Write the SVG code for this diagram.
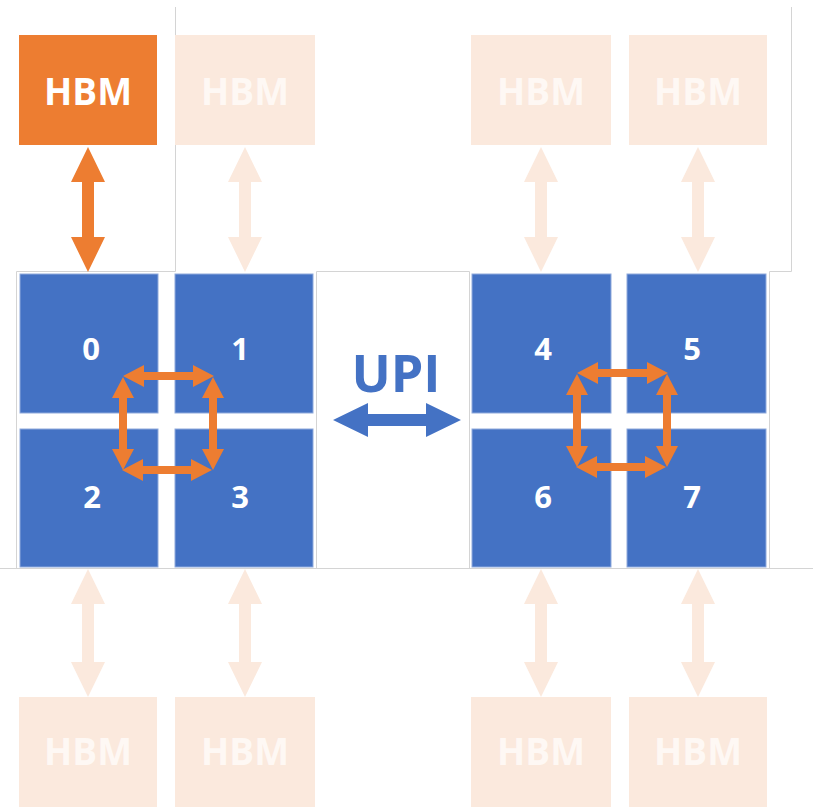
<svg xmlns="http://www.w3.org/2000/svg" width="813" height="807" viewBox="0 0 813 807">
<style>
.frame{fill:none;stroke:#d4d4d4;stroke-width:1}
.tile{fill:#4472c4;stroke:#8faadc;stroke-width:1}
.hbm{fill:#ed7d31}
.hbmf{fill:#fbe9dd}
.lbl{font-family:"Open Sans","Liberation Sans",sans-serif;font-weight:700;text-anchor:middle}
.hbmt{font-size:37px;fill:#ffffff}
.hbmft{font-size:37px;fill:#fef8f4}
.num{font-size:31px;fill:#ffffff}
.or{fill:#ed7d31}
.orf{fill:#fbe9dd}
.bl{fill:#4472c4}
</style>
<rect width="813" height="807" fill="#ffffff"/>
<g id="frames">
<path class="frame" d="M175.5,7 V271.5 H16.5 V568.5"/>
<path class="frame" d="M316.5,568.5 V271.5 H469.5 V568.5"/>
<path class="frame" d="M791.5,7 V271.5 H769.5 V568.5"/>
<path class="frame" d="M0,568.5 H813"/>
</g>
<g id="hbm-top-0"><rect class="hbm" x="19" y="35" width="138" height="110"/><text class="lbl hbmt" x="88" y="105">HBM</text></g>
<g id="hbm-top-1"><rect class="hbmf" x="175" y="35" width="140" height="110"/><text class="lbl hbmft" x="245" y="105">HBM</text></g>
<g id="hbm-top-4"><rect class="hbmf" x="471" y="35" width="140" height="110"/><text class="lbl hbmft" x="541" y="105">HBM</text></g>
<g id="hbm-top-5"><rect class="hbmf" x="629" y="35" width="138" height="110"/><text class="lbl hbmft" x="698" y="105">HBM</text></g>
<g id="hbm-bot-2"><rect class="hbmf" x="19" y="697" width="138" height="110"/><text class="lbl hbmft" x="88" y="765">HBM</text></g>
<g id="hbm-bot-3"><rect class="hbmf" x="175" y="697" width="140" height="110"/><text class="lbl hbmft" x="245" y="765">HBM</text></g>
<g id="hbm-bot-6"><rect class="hbmf" x="471" y="697" width="140" height="110"/><text class="lbl hbmft" x="541" y="765">HBM</text></g>
<g id="hbm-bot-7"><rect class="hbmf" x="629" y="697" width="138" height="110"/><text class="lbl hbmft" x="698" y="765">HBM</text></g>
<g id="tile-0"><rect class="tile" x="20" y="274" width="138" height="139"/><text class="lbl num" x="91" y="360">0</text></g>
<g id="tile-1"><rect class="tile" x="175" y="274" width="138" height="139"/><text class="lbl num" x="240" y="360">1</text></g>
<g id="tile-2"><rect class="tile" x="20" y="429" width="138" height="138"/><text class="lbl num" x="92" y="508">2</text></g>
<g id="tile-3"><rect class="tile" x="175" y="429" width="138" height="138"/><text class="lbl num" x="240" y="508">3</text></g>
<g id="tile-4"><rect class="tile" x="472" y="274" width="139" height="139"/><text class="lbl num" x="543" y="360">4</text></g>
<g id="tile-5"><rect class="tile" x="627" y="274" width="139" height="139"/><text class="lbl num" x="692" y="360">5</text></g>
<g id="tile-6"><rect class="tile" x="472" y="429" width="139" height="138"/><text class="lbl num" x="543" y="508">6</text></g>
<g id="tile-7"><rect class="tile" x="627" y="429" width="139" height="138"/><text class="lbl num" x="692" y="508">7</text></g>
<g id="upi"><text class="lbl" x="396" y="392" font-size="52" fill="#4472c4">UPI</text></g>
<g id="connectors">
<polygon class="or" points="88,147 105,182 94,182 94,237 105,237 88,272 71,237 82,237 82,182 71,182"/>
<polygon class="orf" points="245,147 262,182 251,182 251,237 262,237 245,272 228,237 239,237 239,182 228,182"/>
<polygon class="orf" points="541,147 558,182 547,182 547,237 558,237 541,272 524,237 535,237 535,182 524,182"/>
<polygon class="orf" points="698,147 715,182 704,182 704,237 715,237 698,272 681,237 692,237 692,182 681,182"/>
<polygon class="orf" points="88,569 105,604 94,604 94,662 105,662 88,697 71,662 82,662 82,604 71,604"/>
<polygon class="orf" points="245,569 262,604 251,604 251,662 262,662 245,697 228,662 239,662 239,604 228,604"/>
<polygon class="orf" points="541,569 558,604 547,604 547,662 558,662 541,697 524,662 535,662 535,604 524,604"/>
<polygon class="orf" points="698,569 715,604 704,604 704,662 715,662 698,697 681,662 692,662 692,604 681,604"/>
<polygon class="bl" points="333,420 368,403 368,414 426,414 426,403 461,420 426,437 426,426 368,426 368,437"/>
<g id="ring-left">
<polygon class="or" points="123,376 144,365 144,372 193,372 193,365 214,376 193,387 193,380 144,380 144,387"/>
<polygon class="or" points="122,470 143,459 143,466 191,466 191,459 212,470 191,481 191,474 143,474 143,481"/>
<polygon class="or" points="123,377 134,398 127,398 127,449 134,449 123,470 112,449 119,449 119,398 112,398"/>
<polygon class="or" points="213,377 224,398 217,398 217,449 224,449 213,470 202,449 209,449 209,398 202,398"/>
</g>
<g id="ring-right" transform="translate(454,-3)">
<polygon class="or" points="123,376 144,365 144,372 193,372 193,365 214,376 193,387 193,380 144,380 144,387"/>
<polygon class="or" points="122,470 143,459 143,466 191,466 191,459 212,470 191,481 191,474 143,474 143,481"/>
<polygon class="or" points="123,377 134,398 127,398 127,449 134,449 123,470 112,449 119,449 119,398 112,398"/>
<polygon class="or" points="213,377 224,398 217,398 217,449 224,449 213,470 202,449 209,449 209,398 202,398"/>
</g>
</g>
</svg>
